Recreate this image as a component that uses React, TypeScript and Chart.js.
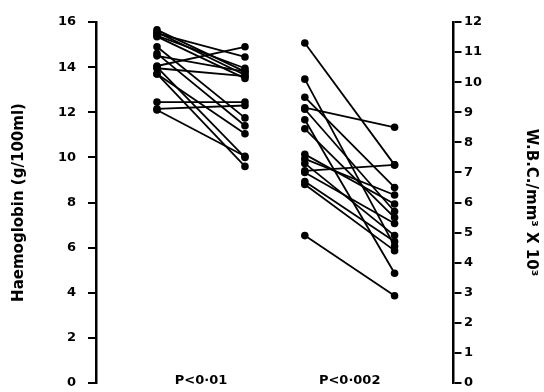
import React, { useEffect, useRef } from "react";
import { Chart, registerables } from "chart.js";

Chart.register(...registerables);

// Haemoglobin (g/100ml), before and after, paired
const hbBefore = [15.65, 15.55, 15.5, 15.4, 15.35, 14.9, 14.6, 14.5, 14.05, 14.0, 13.95, 13.7, 13.7, 12.45, 12.15, 12.1];
const hbAfter = [13.8, 13.65, 14.45, 13.95, 13.5, 11.75, 11.4, 13.8, 14.9, 10.0, 13.6, 9.6, 11.05, 12.45, 12.3, 10.05];

// W.B.C./mm3 x 10^3, before and after, paired
const wbcBefore = [11.3, 10.1, 9.5, 9.15, 9.1, 8.75, 8.45, 7.6, 7.45, 7.3, 7.05, 7.0, 6.7, 6.6, 4.9];
const wbcAfter = [7.25, 4.55, 6.5, 8.5, 5.7, 3.65, 5.5, 5.95, 6.25, 4.9, 7.25, 5.3, 4.7, 4.4, 2.9];

// group positions on the x scale (before, after)
const hbX = [1, 2];
const wbcX = [2.68, 3.7];
const groupLabels = ["P<0·01", "P<0·002"];

const hbTitle = "Haemoglobin (g/100ml)";
const wbcTitle = "W.B.C./mm³ X 10³";

const FONT = '"DejaVu Sans", sans-serif';

export default function App() {
  const ref = useRef<HTMLCanvasElement | null>(null);

  useEffect(() => {
    if (!ref.current) return;
    const lineStyle = {
      borderColor: "#000",
      backgroundColor: "#000",
      borderWidth: 1.8,
      pointRadius: 3.8,
      pointBorderWidth: 0,
      pointBackgroundColor: "#000",
      fill: false,
      tension: 0,
      clip: false as any,
    };
    const datasets: any[] = [
      ...hbBefore.map((v, i) => ({
        ...lineStyle,
        yAxisID: "y",
        data: [
          { x: hbX[0], y: v },
          { x: hbX[1], y: hbAfter[i] },
        ],
      })),
      ...wbcBefore.map((v, i) => ({
        ...lineStyle,
        yAxisID: "y2",
        data: [
          { x: wbcX[0], y: v },
          { x: wbcX[1], y: wbcAfter[i] },
        ],
      })),
    ];

    const groupLabelPlugin = {
      id: "groupLabels",
      afterDraw(chart: any) {
        const { ctx, chartArea, scales } = chart;
        ctx.save();
        ctx.font = `bold 13px ${FONT}`;
        ctx.fillStyle = "#000";
        ctx.textAlign = "center";
        ctx.textBaseline = "middle";
        groupLabels.forEach((t, i) => {
          const xs = i === 0 ? hbX : wbcX;
          const cx = (scales.x.getPixelForValue(xs[0]) + scales.x.getPixelForValue(xs[1])) / 2;
          ctx.fillText(t, cx, chartArea.bottom - 2);
        });
        ctx.restore();
      },
    };

    const tickFont = { family: FONT, size: 13, weight: "bold" as const };
    const titleFont = { family: FONT, size: 15, weight: "bold" as const };
    const chart = new Chart(ref.current, {
      type: "line",
      data: { datasets },
      plugins: [groupLabelPlugin],
      options: {
        animation: false,
        responsive: false,
        layout: { padding: { top: 22, bottom: 9, left: 0, right: 0 } },
        plugins: { legend: { display: false }, tooltip: { enabled: false } },
        scales: {
          x: { type: "linear", display: false, min: 0.307, max: 4.364 },
          y: {
            position: "left",
            min: 0,
            max: 16,
            ticks: { stepSize: 2, color: "#000", font: tickFont, padding: 0 },
            grid: {
              drawOnChartArea: false,
              color: "#000",
              lineWidth: 2,
              tickLength: 20,
              tickBorderDash: [0, 12, 8, 100],
            },
            border: { color: "#000", width: 2.5 },
            title: {
              display: true,
              text: hbTitle,
              color: "#000",
              font: titleFont,
              padding: { top: 10, bottom: 0 },
            },
            afterFit: (s: any) => {
              s.width = 96;
            },
          },
          y2: {
            position: "right",
            min: 0,
            max: 12,
            ticks: { stepSize: 1, color: "#000", font: tickFont, padding: 0 },
            grid: {
              drawOnChartArea: false,
              color: "#000",
              lineWidth: 2,
              tickLength: 11,
              tickBorderDash: [7, 60],
            },
            border: { color: "#000", width: 2.5 },
            title: {
              display: true,
              text: wbcTitle,
              color: "#000",
              font: titleFont,
              padding: { top: 4, bottom: 0 },
            },
            afterFit: (s: any) => {
              s.width = 91;
            },
          },
        },
      } as any,
    });
    return () => chart.destroy();
  }, []);

  return (
    <div style={{ position: "fixed", left: 0, top: 0, width: 544, height: 392, background: "#fff" }}>
      <canvas ref={ref} width={544} height={392} />
    </div>
  );
}
